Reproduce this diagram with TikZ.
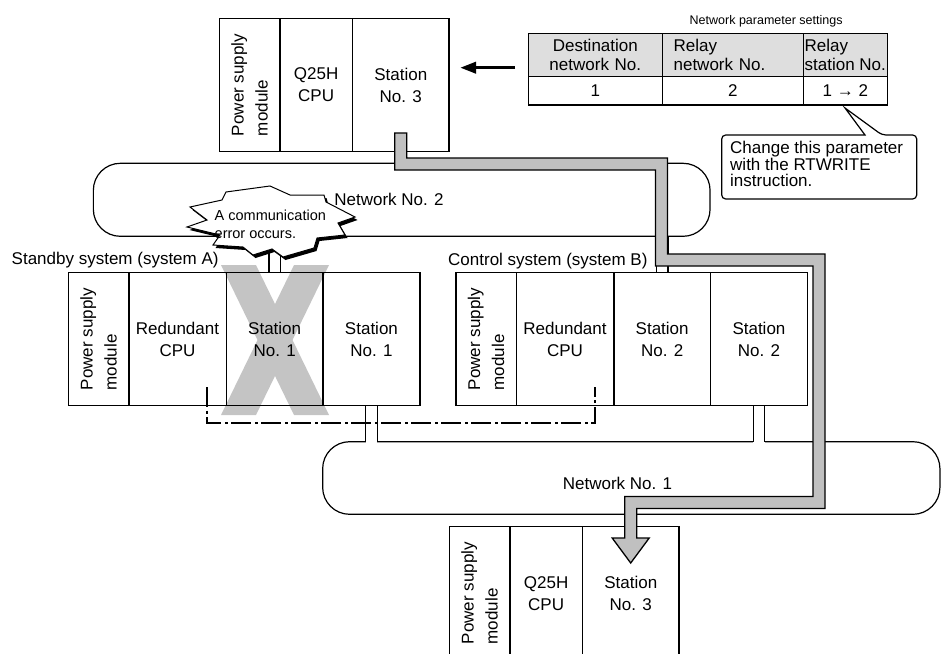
\documentclass[tikz,border=0pt]{standalone}
\usepackage{fontspec}
\setmainfont{Liberation Sans}
\usetikzlibrary{arrows.meta,backgrounds,calc,positioning,shadows}
\definecolor{PipeGray}{RGB}{192,192,192}
\definecolor{CrossGray}{RGB}{196,196,196}
\definecolor{HeadGray}{RGB}{222,222,222}
\tikzset{
  slot/.style={
    draw,
    line width=1.5pt,
    outer sep=0pt,
    inner sep=0pt,
    align=center,
    minimum height=133pt,
    font=\fontsize{17}{22}\selectfont
  },
  psslot/.style={
    slot,
    minimum width=60.5pt,
    label={[font=\fontsize{17}{24}\selectfont,rotate=90,align=left]center:Power supply\\module}
  },
  network/.style={draw,line width=1.2pt,rounded corners=27pt,fill=white,outer sep=0pt,inner sep=0pt},
  netlabel/.style={font=\fontsize{17}{20}\selectfont},
  caption/.style={font=\fontsize{17}{20}\selectfont,inner sep=0pt},
  wire/.style={line width=1.2pt},
  tracking/.style={line width=2.4pt,dash pattern=on 20pt off 3.5pt on 3pt off 3.5pt},
  pipe/.style={draw,fill=PipeGray,line width=1.3pt,line join=miter},
  burst/.style={draw,fill=white,line width=1pt,line join=miter,
    drop shadow={shadow xshift=2.5pt,shadow yshift=-3pt,fill=black,opacity=1}},
  errtext/.style={align=left,inner sep=0pt,font=\fontsize{14.5}{18.3}\selectfont},
  hcell/.style={draw,fill=HeadGray,line width=1.3pt,outer sep=0pt,inner ysep=0pt,
    minimum height=43.4pt,align=left,font=\fontsize{17}{19.7}\selectfont},
  dcell/.style={draw,line width=1.3pt,outer sep=0pt,inner sep=0pt,
    minimum height=28.3pt,font=\fontsize{17}{20}\selectfont},
  pointer/.style={-{Triangle[length=16pt,width=11pt]},line width=3.5pt},
  callout/.style={draw,fill=white,line width=1.2pt},
  notetext/.style={align=left,inner sep=0pt,font=\fontsize{17}{16.8}\selectfont}
}
\begin{document}
\begin{tikzpicture}[x=1pt,y=-1pt]

\useasboundingbox (0,0) rectangle (941,653);
\clip (0,0) rectangle (941,653);

% networks
\node[network,minimum width=616.7pt,minimum height=73pt,
  label={[netlabel,xshift=-12.7pt]center:Network No. 2}] (net2) at (401.7,199.8) {};
\node[network,minimum width=617.3pt,minimum height=72.6pt,
  label={[netlabel,xshift=-13.8pt,yshift=-5.3pt]center:Network No. 1}] (net1) at (631.3,478) {};

% top station
\node[psslot] (ps0) at (249.6,85) {};
\node[slot,minimum width=72.5pt,right=0pt of ps0] (cpu0) {Q25H\\CPU};
\node[slot,minimum width=96.8pt,right=0pt of cpu0] (st0) {Station\\No. 3};

% standby system A
\node[psslot] (psA) at (98.5,339.2) {};
\node[slot,minimum width=97.5pt,right=0pt of psA] (cpuA) {Redundant\\CPU};
\node[slot,minimum width=96.8pt,right=0pt of cpuA] (stA1) {Station\\No. 1};
\node[slot,minimum width=96.8pt,right=0pt of stA1] (stA2) {Station\\No. 1};

% control system B
\node[psslot] (psB) at (486,339.2) {};
\node[slot,minimum width=97.5pt,right=0pt of psB] (cpuB) {Redundant\\CPU};
\node[slot,minimum width=96.8pt,right=0pt of cpuB] (stB1) {Station\\No. 2};
\node[slot,minimum width=96.8pt,right=0pt of stB1] (stB2) {Station\\No. 2};

% bottom station
\node[psslot] (ps3) at (479.6,593.2) {};
\node[slot,minimum width=72.5pt,right=0pt of ps3] (cpu3) {Q25H\\CPU};
\node[slot,minimum width=96.8pt,right=0pt of cpu3] (st3) {Station\\No. 3};

\node[caption,anchor=west] (sysA) at (11.5,260) {Standby system (system A)};
\node[caption,anchor=west] (sysB) at (448,260.7) {Control system (system B)};

% network cables
\foreach \st in {stA1,stB1}{
  \fill[white] ($(\st.north |- net2.south)+(-5.75,-1.5)$) rectangle ($(\st.north |- net2.south)+(5.75,1.5)$);
  \draw[wire] ($(\st.north)+(-5.75,0)$) -- ($(\st.north |- net2.south)+(-5.75,0)$);
  \draw[wire] ($(\st.north)+(5.75,0)$) -- ($(\st.north |- net2.south)+(5.75,0)$);
}
\foreach \st in {stA2,stB2}{
  \fill[white] ($(\st.south |- net1.north)+(-5.75,-1.5)$) rectangle ($(\st.south |- net1.north)+(5.75,1.5)$);
  \draw[wire] ($(\st.south)+(-5.75,0)$) -- ($(\st.south |- net1.north)+(-5.75,0)$);
  \draw[wire] ($(\st.south)+(5.75,0)$) -- ($(\st.south |- net1.north)+(5.75,0)$);
}

% tracking cable
\draw[tracking] ($(cpuA.south east)+(-19,-18.5)$) -- ++(0,36) -| ($(cpuB.south east)+(-19,-18.5)$);

% failed station
\begin{pgfonlayer}{background}
  \fill[CrossGray] (221,265) -- (256,265) -- (329,415) -- (294,415) -- cycle;
  \fill[CrossGray] (294,265) -- (329,265) -- (256,415) -- (221,415) -- cycle;
\end{pgfonlayer}

% route
\path[pipe] (394.7,133) -- (406.7,133) -- (406.7,158) -- (667.5,158) -- (667.5,254)
  -- (825,254) -- (825,508.5) -- (636.7,508.5) -- (636.7,538) -- (649.2,538)
  -- (630.7,563) -- (612.2,538) -- (624.7,538) -- (624.7,496.5) -- (813,496.5)
  -- (813,266) -- (655.5,266) -- (655.5,170) -- (394.7,170) -- cycle;

% error burst
\path[burst] (222,200) -- (226,192) -- (270,186) -- (290,195) -- (324,195) -- (326,202)
  -- (355,217) -- (338,223) -- (345,235) -- (317,238) -- (314,248) -- (283,257)
  -- (272,249) -- (253,255) -- (243,247) -- (213,245) -- (220,235) -- (187,227)
  -- (207,220) -- (190,207) -- cycle;
\node[errtext,anchor=west] (err) at (214.5,224.5) {A communication\\error occurs.};

% parameter table
\node[anchor=west,inner sep=0pt,font=\fontsize{12.5}{15}\selectfont] (tabtitle) at (689.5,21.7)
  {Network parameter settings};
\node[hcell,text width=120pt,inner xsep=7pt,align=center] (h1) at (595.3,55) {Destination\\network No.};
\node[hcell,text width=118.4pt,inner xsep=11.3pt,right=0pt of h1] (h2) {Relay\\network No.};
\node[hcell,minimum width=84pt,inner xsep=0pt,right=0pt of h2] (h3) {Relay\\station No.};
\node[dcell,minimum width=134pt,below=0pt of h1] (d1) {1};
\node[dcell,minimum width=141pt,below=0pt of h2] (d2) {2};
\node[dcell,minimum width=84pt,below=0pt of h3] (d3) {1 → 2};

\coordinate (tabw) at ($(d1.north west)+(0,-9)$);
\draw[pointer,shorten <=13.3pt,shorten >=10.9pt] (tabw) -- (tabw -| st0.east);

% callout
\path[callout] (865,135) [rounded corners=4pt] -- (721.7,135) -- (721.7,199) -- (916.7,199)
  -- (916.7,135) -- (882,135) [sharp corners] -- (845,108) -- cycle;
\node[notetext,anchor=west] (note) at (730,164) {Change this parameter\\with the RTWRITE\\instruction.};

\end{tikzpicture}
\end{document}
